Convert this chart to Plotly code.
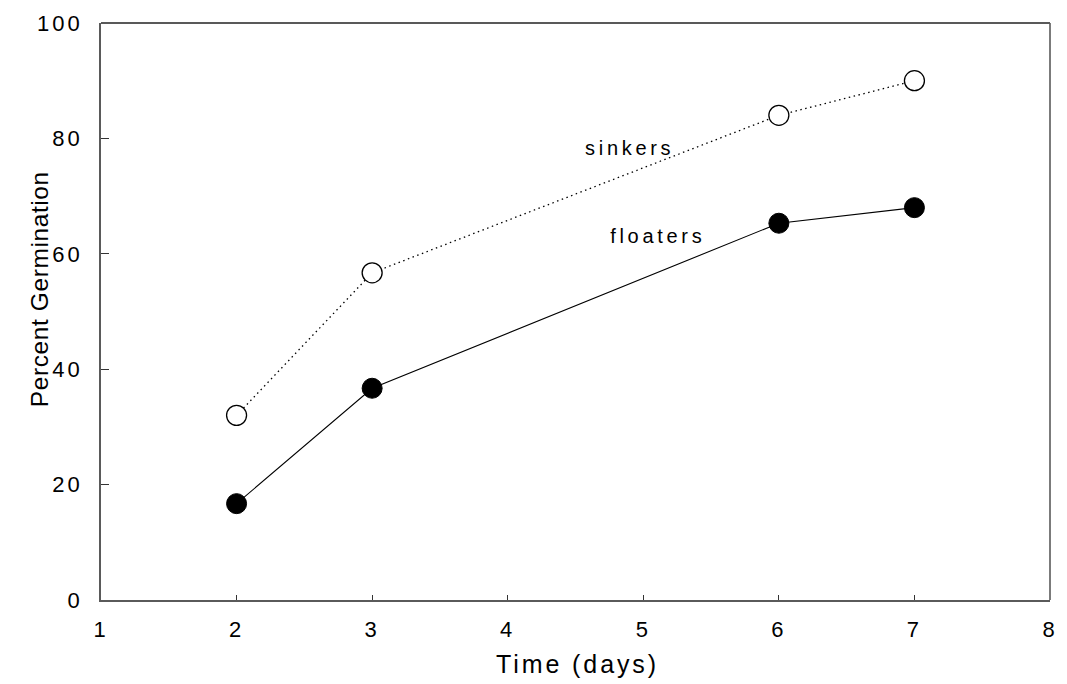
import plotly.graph_objects as go

# Germination over time for seeds that sank vs. floated
days = [2, 3, 6, 7]
sinkers = [32.0, 56.7, 84.0, 90.0]
floaters = [16.7, 36.7, 65.3, 68.0]

x_ticks = [1, 2, 3, 4, 5, 6, 7, 8]
y_ticks = [0, 20, 40, 60, 80, 100]

FONT = "Liberation Sans, Arial, sans-serif"
AXIS_GRAY = "#5a5a5a"

fig = go.Figure()

fig.add_trace(go.Scatter(
    x=days, y=sinkers, mode="lines+markers", name="sinkers",
    line=dict(color="black", width=1.3, dash="1.5px,3.5px"),
    marker=dict(symbol="circle", size=20, color="white",
                line=dict(color="black", width=1.3)),
))
fig.add_trace(go.Scatter(
    x=days, y=floaters, mode="lines+markers", name="floaters",
    line=dict(color="black", width=1.1),
    marker=dict(symbol="circle", size=20, color="black",
                line=dict(color="black", width=1)),
))

# In-plot series labels
fig.add_annotation(x=4.895, y=78.4, text="sinkers", showarrow=False,
                   font=dict(family=FONT, size=20, color="black"))
fig.add_annotation(x=5.105, y=63.0, text="floaters", showarrow=False,
                   font=dict(family=FONT, size=20, color="black"))

# Axis titles
fig.add_annotation(x=0.502, y=-0.111, xref="paper", yref="paper",
                   text="Time (days)", showarrow=False, yanchor="middle",
                   font=dict(family=FONT, size=25, color="black"))
fig.add_annotation(x=-0.0806, y=0.538, xref="paper", yref="paper",
                   text="Percent Germination", textangle=-90, showarrow=False,
                   font=dict(family=FONT, size=24.5, color="black"))

# Frame on top and right
fig.add_shape(type="line", xref="x domain", yref="y domain",
              x0=0, x1=1, y0=1, y1=1, line=dict(color="#222222", width=1.3))
fig.add_shape(type="line", xref="x domain", yref="y domain",
              x0=1, x1=1, y0=0, y1=1, line=dict(color=AXIS_GRAY, width=1.6))

fig.update_layout(
    width=1067, height=684,
    margin=dict(l=101, r=11, t=22, b=84),
    paper_bgcolor="white", plot_bgcolor="white",
    showlegend=False,
    font=dict(family=FONT, size=22, color="black"),
    xaxis=dict(
        range=[1, 8], tickvals=x_ticks, ticktext=[str(v) for v in x_ticks],
        showgrid=False, zeroline=False,
        showline=True, linecolor=AXIS_GRAY, linewidth=1.8,
        ticks="inside", ticklen=5, tickcolor="#333333", tickwidth=1,
        ticklabelstandoff=9,
        tickfont=dict(family=FONT, size=22, color="black"),
    ),
    yaxis=dict(
        range=[0, 100], tickvals=y_ticks,
        showgrid=False, zeroline=False,
        showline=True, linecolor=AXIS_GRAY, linewidth=1.8,
        ticks="inside", ticklen=8, tickcolor="#333333", tickwidth=1,
        ticklabelstandoff=12,
        tickfont=dict(family=FONT, size=22, color="black"),
    ),
)

# Wider letter tracking for the printed-style labels
post = """
var gd = document.getElementById('{plot_id}');
function track() {
  gd.querySelectorAll('.xtick text, .ytick text').forEach(function(t) {
    t.style.letterSpacing = '3px';
  });
  gd.querySelectorAll('.annotation-text').forEach(function(t) {
    var s = t.textContent;
    if (s === 'sinkers' || s === 'floaters') t.style.letterSpacing = '3.7px';
    else if (s === 'Time (days)') t.style.letterSpacing = '2.9px';
    else t.style.letterSpacing = '0.6px';
  });
}
track();
gd.on('plotly_afterplot', track);
"""

fig.write_html("out.html", post_script=post)
